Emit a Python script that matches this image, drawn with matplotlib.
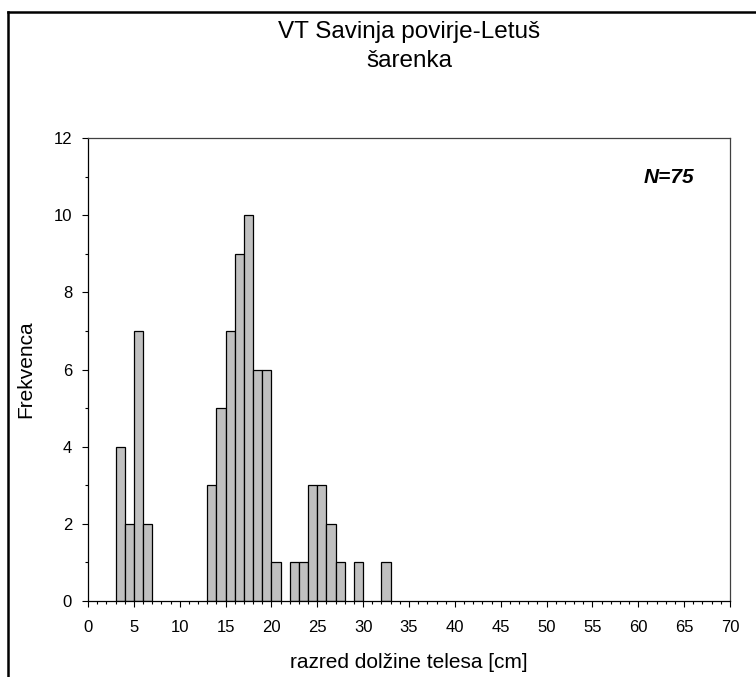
import matplotlib
matplotlib.use("Agg")
import matplotlib.pyplot as plt
from matplotlib.lines import Line2D
from matplotlib.ticker import MultipleLocator

plt.rcParams['font.family'] = ['Liberation Sans', 'DejaVu Sans']

# frekvence po 1 cm razredih (spodnja meja razreda)
razred_od = [3, 4, 5, 6, 13, 14, 15, 16, 17, 18, 19, 20, 22, 23, 24, 25, 26, 27, 29, 32]
frekvenca = [4, 2, 7, 2, 3, 5, 7, 9, 10, 6, 6, 1, 1, 1, 3, 3, 2, 1, 1, 1]

naslov = ["VT Savinja povirje-Letuš", "šarenka"]
n_rib = sum(frekvenca)

fig = plt.figure(figsize=(7.56, 6.77), dpi=100)
ax = fig.add_axes([88 / 756, 76 / 677, 642 / 756, 463 / 677])

ax.bar(razred_od, frekvenca, width=1, align='edge',
       color='#c0c0c0', edgecolor='black', linewidth=0.9)

ax.set_xlim(0, 70)
ax.set_ylim(0, 12)
ax.xaxis.set_major_locator(MultipleLocator(5))
ax.xaxis.set_minor_locator(MultipleLocator(1))
ax.yaxis.set_major_locator(MultipleLocator(2))
ax.yaxis.set_minor_locator(MultipleLocator(1))
ax.tick_params(which='major', direction='out', length=4.5, width=0.8,
               labelsize=12, pad=7)
ax.tick_params(axis='x', which='major', pad=9)
ax.tick_params(which='minor', direction='out', length=2.3, width=0.8)

for side in ['left', 'bottom']:
    ax.spines[side].set_linewidth(0.9)
for side in ['top', 'right']:
    ax.spines[side].set_linewidth(0.9)
    ax.spines[side].set_color('#404040')

ax.set_xlabel("razred dolžine telesa [cm]", fontsize=15, labelpad=13)
ax.set_ylabel("Frekvenca", fontsize=15, labelpad=13)

ax.text(0.944, 0.903, f"N={n_rib}", transform=ax.transAxes, ha='right',
        va='baseline', fontsize=15, fontweight='bold', fontstyle='italic')

# naslov v dveh vrsticah
for vrstica, y_px in zip(naslov, [38, 67]):
    fig.text(409 / 756, 1 - y_px / 677, vrstica, ha='center', va='baseline',
             fontsize=17.5)

# okvir slike (zgoraj in levo)
y_top = 1 - 12 / 677
x_left = 8 / 756
fig.add_artist(Line2D([x_left, 1], [y_top, y_top], color='black',
                      linewidth=1.8, transform=fig.transFigure))
fig.add_artist(Line2D([x_left, x_left], [0, y_top], color='black',
                      linewidth=1.8, transform=fig.transFigure))

fig.savefig("out.png", dpi=100)
